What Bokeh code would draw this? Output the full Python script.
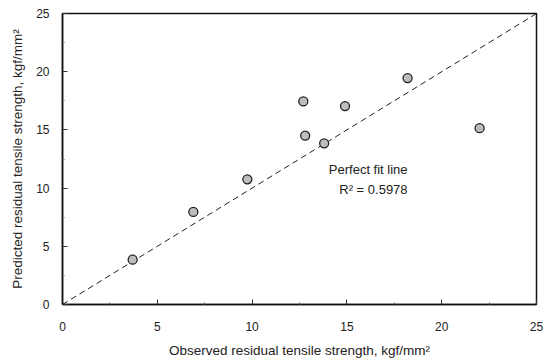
from bokeh.plotting import figure
from bokeh.models import Range1d, Label, FixedTicker, ColumnDataSource
from bokeh.embed import file_html
from bokeh.resources import INLINE

# ---- data ----
observed = [3.7, 6.9, 9.75, 12.7, 12.8, 13.8, 14.9, 18.2, 22.0]
predicted = [3.85, 7.95, 10.75, 17.45, 14.5, 13.85, 17.05, 19.45, 15.15]
fit_x = [0, 25]
fit_y = [0, 25]
major_ticks = [0, 5, 10, 15, 20, 25]
fit_label = "Perfect fit line"
r2_label = "R\u00b2 = 0.5978"
x_title = "Observed residual tensile strength, kg\u0066/mm\u00b2"
y_title = "Predicted residual tensile strength, kg\u0066/mm\u00b2"

FONT = "Liberation Sans"
TXT = "#222222"

p = figure(width=549, height=361, output_backend="svg", toolbar_location=None,
           x_range=Range1d(0, 25), y_range=Range1d(0, 25),
           min_border_left=62, min_border_right=13, min_border_top=13,
           min_border_bottom=57, background_fill_color="white",
           border_fill_color="white")

p.xgrid.visible = False
p.ygrid.visible = False
p.outline_line_color = "#111111"
p.outline_line_width = 1.5

for ax in (p.xaxis[0], p.yaxis[0]):
    ax.ticker = FixedTicker(ticks=major_ticks,
                            minor_ticks=[v + 2.5 for v in major_ticks[:-1]])
    ax.axis_line_color = "#111111"
    ax.axis_line_width = 1.5
    ax.major_tick_in = 5
    ax.major_tick_out = 0
    ax.minor_tick_in = 2
    ax.minor_tick_out = 0
    ax.major_tick_line_color = "#333333"
    ax.minor_tick_line_color = "#666666"
    ax.major_label_text_font = FONT
    ax.major_label_text_font_size = "12px"
    ax.major_label_text_color = TXT
    ax.axis_label_text_font = FONT
    ax.axis_label_text_font_size = "13.5px"
    ax.axis_label_text_font_style = "normal"
    ax.axis_label_text_color = TXT

p.xaxis[0].major_label_standoff = 17
p.yaxis[0].major_label_standoff = 13
p.xaxis[0].axis_label = x_title
p.yaxis[0].axis_label = y_title
p.xaxis[0].axis_label_standoff = 9
p.yaxis[0].axis_label_standoff = 8

# perfect fit line
p.line(fit_x, fit_y, line_color="#222222", line_width=1, line_dash="6 4")

# points
src = ColumnDataSource(dict(x=observed, y=predicted))
p.scatter("x", "y", source=src, size=9, marker="circle",
          fill_color="#bdbdbd", line_color="#222222", line_width=1.3)

# annotation
p.add_layout(Label(x=18.2, y=11.6, text=fit_label, text_align="right",
                   text_baseline="middle", text_font=FONT,
                   text_font_size="13px", text_color=TXT))
p.add_layout(Label(x=18.2, y=9.88, text=r2_label, text_align="right",
                   text_baseline="middle", text_font=FONT,
                   text_font_size="13px", text_color=TXT))

open("out.html", "w").write(file_html(p, INLINE))
